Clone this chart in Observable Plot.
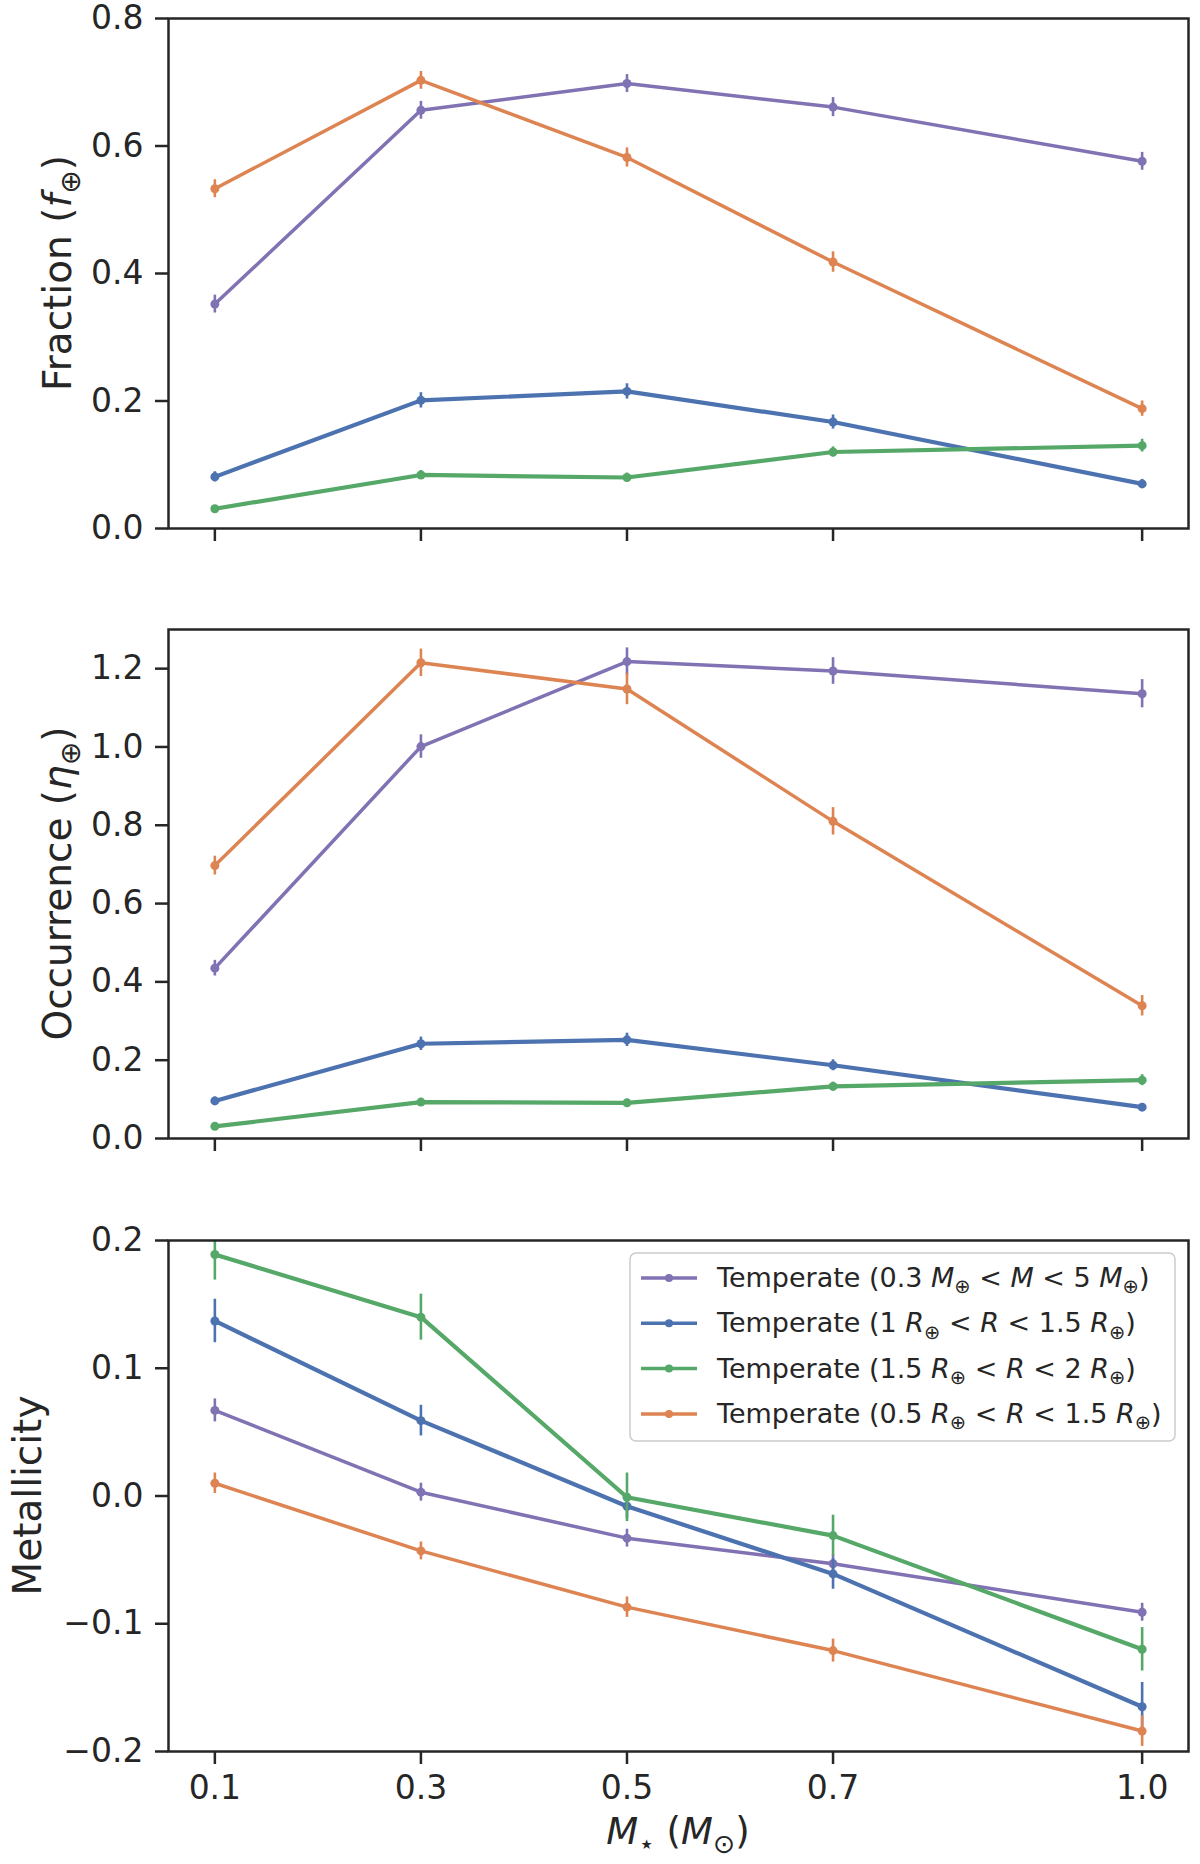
<!DOCTYPE html>
<html>
<head>
<meta charset="utf-8">
<script src="https://cdn.jsdelivr.net/npm/d3@7"></script>
<script src="https://cdn.jsdelivr.net/npm/@observablehq/plot@0.6"></script>
<style>
  body { margin: 0; background: white; }
  #chart svg { display: block; overflow: visible; }
  text { white-space: pre; }
</style>
</head>
<body>
<div id="chart"></div>
<script>
// stellar mass bins (M_sun)
const masses = [0.1, 0.3, 0.5, 0.7, 1.0];
const seriesKeys = ["mass", "r1", "r15", "r05"];
const seriesColors = ["#8172B3", "#4C72B0", "#55A868", "#DD8452"];

// fraction f_earth
const fracMass = [0.352, 0.656, 0.698, 0.661, 0.576];
const fracMassErr = [0.014, 0.014, 0.014, 0.015, 0.014];
const fracR1 = [0.081, 0.201, 0.215, 0.167, 0.070];
const fracR1Err = [0.008, 0.012, 0.012, 0.011, 0.007];
const fracR15 = [0.031, 0.084, 0.080, 0.120, 0.130];
const fracR15Err = [0.005, 0.007, 0.007, 0.008, 0.010];
const fracR05 = [0.533, 0.703, 0.582, 0.418, 0.188];
const fracR05Err = [0.014, 0.014, 0.015, 0.016, 0.012];

// occurrence eta_earth
const occMass = [0.435, 1.001, 1.218, 1.194, 1.136];
const occMassErr = [0.020, 0.030, 0.035, 0.034, 0.036];
const occR1 = [0.096, 0.242, 0.252, 0.187, 0.080];
const occR1Err = [0.010, 0.017, 0.017, 0.014, 0.008];
const occR15 = [0.031, 0.093, 0.091, 0.133, 0.149];
const occR15Err = [0.006, 0.009, 0.009, 0.011, 0.014];
const occR05 = [0.697, 1.215, 1.148, 0.810, 0.339];
const occR05Err = [0.024, 0.035, 0.040, 0.035, 0.026];

// metallicity
const metMass = [0.067, 0.003, -0.033, -0.053, -0.091];
const metMassErr = [0.009, 0.007, 0.007, 0.007, 0.007];
const metR1 = [0.137, 0.059, -0.008, -0.061, -0.165];
const metR1Err = [0.017, 0.012, 0.010, 0.012, 0.019];
const metR15 = [0.189, 0.140, -0.001, -0.031, -0.120];
const metR15Err = [0.020, 0.018, 0.019, 0.016, 0.017];
const metR05 = [0.010, -0.043, -0.087, -0.121, -0.184];
const metR05Err = [0.008, 0.007, 0.008, 0.009, 0.012];

const fracTicks = [0, 0.2, 0.4, 0.6, 0.8];
const occTicks = [0, 0.2, 0.4, 0.6, 0.8, 1.0, 1.2];
const metTicks = [-0.2, -0.1, 0, 0.1, 0.2];

// legend labels: [text, "" | "i" (italic) | "s" (subscript)]
const legendLabels = [
  [["Temperate (0.3 ", ""], ["M", "i"], ["⊕", "s"], [" < ", ""], ["M", "i"], [" < 5 ", ""], ["M", "i"], ["⊕", "s"], [")", ""]],
  [["Temperate (1 ", ""], ["R", "i"], ["⊕", "s"], [" < ", ""], ["R", "i"], [" < 1.5 ", ""], ["R", "i"], ["⊕", "s"], [")", ""]],
  [["Temperate (1.5 ", ""], ["R", "i"], ["⊕", "s"], [" < ", ""], ["R", "i"], [" < 2 ", ""], ["R", "i"], ["⊕", "s"], [")", ""]],
  [["Temperate (0.5 ", ""], ["R", "i"], ["⊕", "s"], [" < ", ""], ["R", "i"], [" < 1.5 ", ""], ["R", "i"], ["⊕", "s"], [")", ""]]
];

function table(vals, errs) {
  return seriesKeys.map((k, i) => masses.map((m, j) => ({
    series: k, color: seriesColors[i], mass: m, v: vals[i][j], e: errs[i][j]
  })));
}

const ink = "#262626";

function addMath(sel, parts, size) {
  let shift = 0;
  parts.forEach(([t, s]) => {
    const ts = sel.append("tspan").text(t);
    if (s === "i") ts.attr("font-style", "italic");
    const target = s === "s" ? size * 0.24 : 0;
    if (target !== shift) { ts.attr("dy", target - shift); shift = target; }
    if (s === "s") ts.attr("font-size", size * 0.72);
  });
}

function panel({series, yDomain, yTicks, height, marginTop, marginBottom, xLabels, yLabel, yLabelX}) {
  const marks = [
    Plot.axisX({ticks: masses, tickSize: 13, tickPadding: 11, strokeWidth: 2.5, stroke: ink,
      tickFormat: xLabels ? d3.format(".1f") : () => "", label: null}),
    Plot.axisY({ticks: yTicks, tickSize: 13, tickPadding: 12, strokeWidth: 2.5, stroke: ink,
      tickFormat: d3.format(".1f"), label: null})
  ];
  series.forEach((rows, i) => {
    const w = i === 1 || i === 2 ? 4.2 : 3.5;
    marks.push(
      Plot.ruleX(rows, {x: "mass", y1: d => d.v - d.e, y2: d => d.v + d.e, stroke: "color", strokeWidth: 2.6, clip: true}),
      Plot.line(rows, {x: "mass", y: "v", stroke: "color", strokeWidth: w}),
      Plot.dot(rows, {x: "mass", y: "v", fill: "color", r: 4.5})
    );
  });
  marks.push(Plot.frame({stroke: ink, strokeWidth: 2.5}));

  const svg = Plot.plot({
    width: 1200, height, marginLeft: 168, marginRight: 12, marginTop, marginBottom,
    x: {domain: [0.055, 1.045]},
    y: {domain: yDomain},
    color: {type: "identity"},
    style: {fontFamily: "DejaVu Sans", fontSize: "33px", color: ink, background: "white", overflow: "visible"},
    marks
  });

  const cy = marginTop + (height - marginTop - marginBottom) / 2;
  const lab = d3.select(svg).append("text")
    .attr("transform", `translate(${yLabelX},${cy}) rotate(-90)`)
    .attr("text-anchor", "middle")
    .attr("font-family", "DejaVu Sans")
    .attr("font-size", 39)
    .attr("fill", ink);
  addMath(lab, yLabel, 39);
  return svg;
}

const chart = d3.select("#chart");

chart.append(() => panel({
  series: table([fracMass, fracR1, fracR15, fracR05], [fracMassErr, fracR1Err, fracR15Err, fracR05Err]),
  yDomain: [0, 0.8], yTicks: fracTicks, height: 590, marginTop: 18, marginBottom: 62, xLabels: false,
  yLabel: [["Fraction (", ""], ["f", "i"], ["⊕", "s"], [")", ""]], yLabelX: 71
}));

chart.append(() => panel({
  series: table([occMass, occR1, occR15, occR05], [occMassErr, occR1Err, occR15Err, occR05Err]),
  yDomain: [0, 1.3], yTicks: occTicks, height: 600, marginTop: 39, marginBottom: 52, xLabels: false,
  yLabel: [["Occurrence (", ""], ["η", "i"], ["⊕", "s"], [")", ""]], yLabelX: 71
}));

const metSvg = panel({
  series: table([metMass, metR1, metR15, metR05], [metMassErr, metR1Err, metR15Err, metR05Err]),
  yDomain: [-0.2, 0.2], yTicks: metTicks, height: 674, marginTop: 50, marginBottom: 113, xLabels: true,
  yLabel: [["Metallicity", ""]], yLabelX: 41
});
chart.append(() => metSvg);

// x axis label
const s3 = d3.select(metSvg);
const xl = s3.append("text")
  .attr("x", 678).attr("y", 654)
  .attr("text-anchor", "middle")
  .attr("font-family", "DejaVu Sans")
  .attr("font-size", 37)
  .attr("fill", ink);
addMath(xl, [["M", "i"], ["⋆", "s"], [" (", ""], ["M", "i"], ["⊙", "s"], [")", ""]], 37);

// legend (upper right of metallicity panel)
const lg = s3.append("g").attr("font-family", "DejaVu Sans").attr("font-size", 27).attr("text-anchor", "start");
lg.append("rect")
  .attr("x", 630).attr("y", 63).attr("width", 545).attr("height", 188).attr("rx", 6)
  .attr("fill", "white").attr("fill-opacity", 0.8)
  .attr("stroke", "#cccccc").attr("stroke-width", 1.5);
legendLabels.forEach((parts, i) => {
  const yy = 88 + i * 45.3;
  lg.append("line").attr("x1", 641).attr("x2", 697).attr("y1", yy).attr("y2", yy)
    .attr("stroke", seriesColors[i]).attr("stroke-width", 3.5);
  lg.append("circle").attr("cx", 669).attr("cy", yy).attr("r", 4).attr("fill", seriesColors[i]);
  const t = lg.append("text").attr("x", 717).attr("y", yy + 9).attr("fill", ink).attr("text-anchor", "start");
  addMath(t, parts, 27);
});
</script>
</body>
</html>
